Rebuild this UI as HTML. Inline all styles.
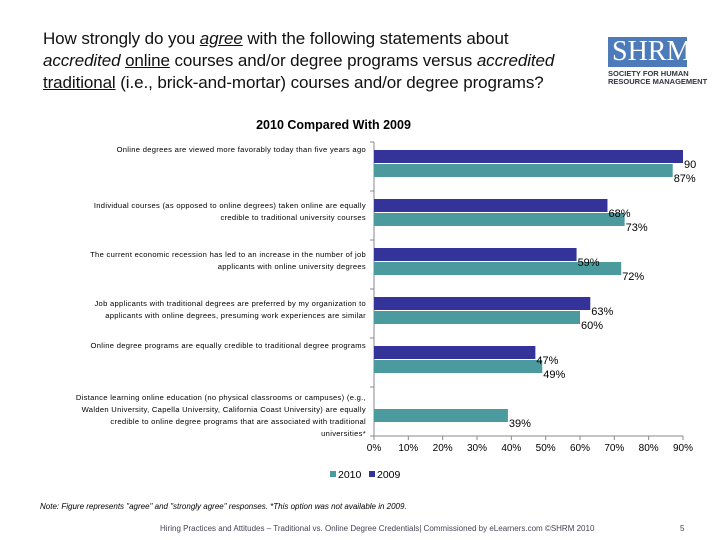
<!DOCTYPE html>
<html><head><meta charset="utf-8">
<style>
body{margin:0;background:#fff;}
#wrap{position:relative;width:720px;height:540px;overflow:hidden;background:#fff;font-family:"Liberation Sans",sans-serif;}
.title{position:absolute;left:43px;top:28px;font-size:17px;line-height:22px;color:#111;letter-spacing:-0.1px;}
.logo{position:absolute;left:608px;top:37px;width:79px;height:30px;background:#4d7ab8;}
.logo span{position:absolute;color:#fff;font-family:"Liberation Serif",serif;font-size:28px;top:-1px;left:4px;}
.logosub{position:absolute;left:608px;top:70px;font-size:7.5px;line-height:8px;color:#334;font-weight:bold;}
.ctitle{position:absolute;left:0;width:667px;top:118px;text-align:center;font-size:12.5px;font-weight:bold;}
.note{position:absolute;left:40px;top:502px;font-size:8px;font-style:italic;}
.foot{position:absolute;left:160px;top:524px;font-size:8px;color:#445;}
.pg{position:absolute;left:680px;top:524px;font-size:8px;color:#445;}
</style></head><body>
<div id="wrap">
<div class="title">How strongly do you <u><i>agree</i></u> with the following statements about<br><i>accredited</i> <u>online</u> courses and/or degree programs versus <i>accredited</i><br><u>traditional</u> (i.e., brick-and-mortar) courses and/or degree programs?</div>
<div class="logo"><span>SHRM</span></div>
<div class="logosub">SOCIETY FOR HUMAN<br>RESOURCE MANAGEMENT</div>
<div class="ctitle">2010 Compared With 2009</div>
<svg id="chart" width="720" height="540" style="position:absolute;left:0;top:0"></svg>
<div class="note">Note: Figure represents "agree" and "strongly agree" responses. *This option was not available in 2009.</div>
<div class="foot">Hiring Practices and Attitudes – Traditional vs. Online Degree Credentials| Commissioned by eLearners.com ©SHRM 2010</div>
<div class="pg">5</div>
</div>
<script>
const categories=[
 ["Online degrees are viewed more favorably today than five years ago"],
 ["Individual courses (as opposed to online degrees) taken online are equally","credible to traditional university courses"],
 ["The current economic recession has led to an increase in the number of job","applicants with online university degrees"],
 ["Job applicants with traditional degrees are preferred by my organization to","applicants with online degrees, presuming work experiences are similar"],
 ["Online degree programs are equally credible to traditional  degree programs"],
 ["Distance learning online education (no physical classrooms or campuses) (e.g.,","Walden University, Capella University, California Coast University) are equally","credible to online degree programs that are associated with traditional","universities*"]
];
const values2009=[90,68,59,63,47,null];
const values2010=[87,73,72,60,49,39];
const labels2009=["90","68%","59%","63%","47%",""];
const tickLabels=["0%","10%","20%","30%","40%","50%","60%","70%","80%","90%"];
const svg=document.getElementById('chart');
const NS='http://www.w3.org/2000/svg';
const X0=374,X1=683,MAX=90,TOP=142,BAND=49;
const x=v=>X0+(X1-X0)*v/MAX;
const by=i=>TOP+i*BAND;
function mk(t,a){const e=document.createElementNS(NS,t);for(const k in a)e.setAttribute(k,a[k]);svg.appendChild(e);return e;}
const ax=mk('line',{x1:X0,y1:TOP,x2:X0,y2:TOP+6*BAND,stroke:'#888'});


for(let i=0;i<=6;i++){const t=mk('line',{x1:X0-4,y1:by(i),x2:X0,y2:by(i),stroke:'#888'});

}
const xa=mk('line',{x1:X0,y1:by(6),x2:X1,y2:by(6),stroke:'#888'});


tickLabels.forEach((l,i)=>{const v=i*10;
const t=mk('line',{x1:x(v),y1:by(6),x2:x(v),y2:by(6)+4,stroke:'#888'});


const tx=mk('text',{x:x(v),y:by(6)+15,'text-anchor':'middle','font-size':'10','font-family':'Liberation Sans, sans-serif'});
tx.textContent=l;

});
categories.forEach((lines,i)=>{
 const n=lines.length;
 const sy=n>=4?by(i)+13:(n==2?by(i)+17:by(i)+10);
 lines.forEach((ln,j)=>{const t=mk('text',{x:366,y:sy+j*12,'text-anchor':'end','font-size':'7.6','font-family':'Liberation Sans, sans-serif','letter-spacing':'0.3'});
 t.textContent=ln;
 
 });
 if(values2009[i]!=null){
  const r=mk('rect',{x:X0,y:by(i)+8,width:x(values2009[i])-X0,height:13,fill:'#333399'});
  
  
 }
 const r2=mk('rect',{x:X0,y:by(i)+22,width:x(values2010[i])-X0,height:13,fill:'#4a9a9e'});
 
 
});
categories.forEach((lines,i)=>{
 if(values2009[i]!=null){
  const t=mk('text',{x:x(values2009[i])+1,y:by(i)+26,'font-size':'11','font-family':'Liberation Sans, sans-serif'});
  t.textContent=labels2009[i];
  
  
 }
 const t2=mk('text',{x:x(values2010[i])+1,y:by(i)+40,'font-size':'11','font-family':'Liberation Sans, sans-serif'});
 t2.textContent=values2010[i]+'%';
 
 
});
const lg=[[330,'#4a9a9e','2010'],[369,'#333399','2009']];
lg.forEach(([lx,c,l])=>{const r=mk('rect',{x:lx,y:471,width:6,height:6,fill:c});


const t=mk('text',{x:lx+8,y:478,'font-size':'10.5','font-family':'Liberation Sans, sans-serif'});
t.textContent=l;

});
</script>
</body></html>
